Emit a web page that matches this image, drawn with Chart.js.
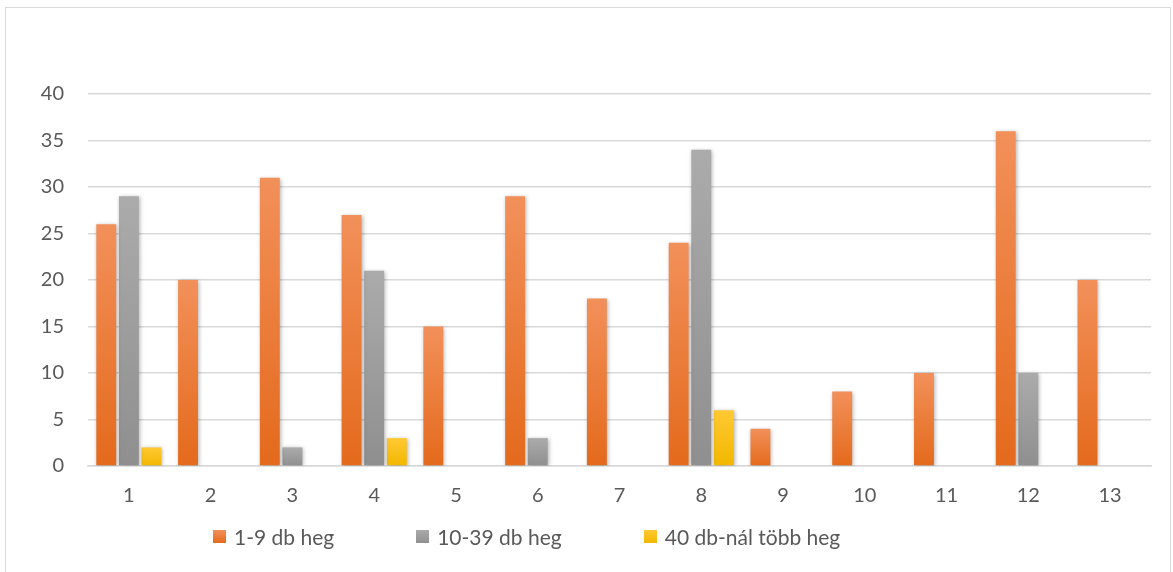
<!DOCTYPE html>
<html>
<head>
<meta charset="utf-8">
<script src="https://cdn.jsdelivr.net/npm/chart.js@4.4.0/dist/chart.umd.min.js"></script>
<style>
  body { margin: 0; background: #fff; }
  #wrap { position: relative; width: 1173px; height: 572px; }
  #frame { position: absolute; left: 5px; top: 7px; width: 1164px; height: 580px; border: 1px solid #d9d9d9; pointer-events: none; }
  #legend { position: absolute; left: 213px; top: 524px; display: flex; gap: 82px; font-family: Lato, sans-serif; font-size: 21px; color: #595959; }
  #legend .item { display: flex; align-items: center; }
  #legend .box { width: 13px; height: 13px; margin-right: 8px; }
</style>
</head>
<body>
<div id="wrap">
  <canvas id="chart" width="1173" height="572"></canvas>
  <div id="frame"></div>
  <div id="legend"></div>
</div>
<script>
// Data
var categories = ['1', '2', '3', '4', '5', '6', '7', '8', '9', '10', '11', '12', '13'];
var small = [26, 20, 31, 27, 15, 29, 18, 24, 4, 8, 10, 36, 20];
var medium = [29, 0, 2, 21, 0, 3, 0, 34, 0, 0, 0, 10, 0];
var large = [2, 0, 0, 3, 0, 0, 0, 6, 0, 0, 0, 0, 0];
var seriesNames = ['1-9 db heg', '10-39 db heg', '40 db-nál több heg'];
var yTicks = [0, 5, 10, 15, 20, 25, 30, 35, 40];

// light top -> dark bottom, like the Excel gradient fill
var gradients = [
    ['#f2905a', '#e46a1c'],
    ['#ababab', '#8f8f8f'],
    ['#ffc933', '#f2b700']
];

function barGradient(idx) {
    return function (context) {
        var chart = context.chart;
        if (!chart.chartArea || context.parsed === undefined) return gradients[idx][1];
        var y = chart.scales.y;
        var top = y.getPixelForValue(context.parsed.y);
        var bottom = y.getPixelForValue(0);
        if (bottom - top < 1) return gradients[idx][1];
        var g = chart.ctx.createLinearGradient(0, top, 0, bottom);
        g.addColorStop(0, gradients[idx][0]);
        g.addColorStop(1, gradients[idx][1]);
        return g;
    };
}

var shadowPlugin = {
    id: 'barShadow',
    beforeDatasetsDraw: function (chart) {
        var ctx = chart.ctx;
        ctx.save();
        ctx.shadowColor = 'rgba(0,0,0,0.3)';
        ctx.shadowBlur = 4;
        ctx.shadowOffsetX = 1;
        ctx.shadowOffsetY = 1;
    },
    afterDatasetsDraw: function (chart) {
        chart.ctx.restore();
    }
};

var ctx = document.getElementById('chart').getContext('2d');
var chart = new Chart(ctx, {
    type: 'bar',
    data: {
        labels: categories,
        datasets: [
            { label: seriesNames[0], data: small, backgroundColor: barGradient(0) },
            { label: seriesNames[1], data: medium, backgroundColor: barGradient(1) },
            { label: seriesNames[2], data: large, backgroundColor: barGradient(2) }
        ]
    },
    options: {
        responsive: false,
        animation: false,
        layout: { padding: { top: 94, right: 22, bottom: 54, left: 0 } },
        datasets: {
            bar: { categoryPercentage: 0.83, barPercentage: 0.88, borderWidth: 0 }
        },
        plugins: {
            legend: { display: false },
            tooltip: { enabled: false }
        },
        scales: {
            x: {
                grid: { display: false },
                border: { display: true, color: '#d9d9d9', width: 1.5 },
                ticks: { color: '#595959', font: { family: 'Lato', size: 20 }, padding: 10 }
            },
            y: {
                min: 0,
                max: 40,
                afterFit: function (scale) { scale.width = 88; },
                afterBuildTicks: function (scale) {
                    scale.ticks = yTicks.map(function (v) { return { value: v }; });
                },
                grid: { color: '#d9d9d9', lineWidth: 1.5, drawTicks: false },
                border: { display: false },
                ticks: { color: '#595959', font: { family: 'Lato', size: 20 }, padding: 24 }
            }
        }
    },
    plugins: [shadowPlugin]
});

// legend built from the datasets
var legend = document.getElementById('legend');
chart.data.datasets.forEach(function (ds, i) {
    var item = document.createElement('div');
    item.className = 'item';
    var box = document.createElement('span');
    box.className = 'box';
    box.style.background = 'linear-gradient(' + gradients[i][0] + ', ' + gradients[i][1] + ')';
    var text = document.createElement('span');
    text.textContent = ds.label;
    item.appendChild(box);
    item.appendChild(text);
    legend.appendChild(item);
});
</script>
</body>
</html>
